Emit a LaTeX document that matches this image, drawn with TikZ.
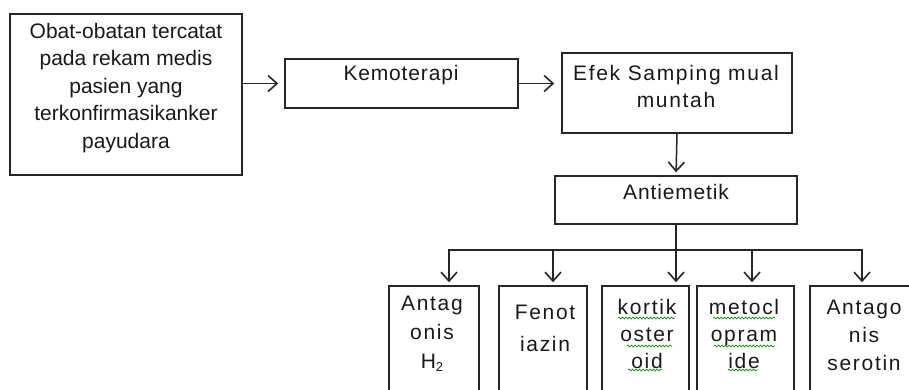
\documentclass[tikz,border=0pt]{standalone}
\usepackage{fontspec}
\setmainfont{Liberation Sans}
\newfontfamily\wideface[LetterSpace=4]{Liberation Sans}
\newfontfamily\widerface[LetterSpace=8]{Liberation Sans}
\usetikzlibrary{arrows.meta,decorations.pathmorphing}
\begin{document}
\begin{tikzpicture}[x=1pt,y=-1pt,
  box/.style={draw=black!85,line width=1.5pt,rectangle,inner sep=0pt},
  txt/.style={align=center,inner sep=0pt,font=\wideface\fontsize{21}{27.5}\selectfont,text=black!90},
  ln/.style={draw=black!85,line width=1.5pt},
  arr/.style={ln,-{Straight Barb[length=9pt,width=16pt,line width=1.6pt]}},
  spell/.style={draw=green!55!black,line width=0.7pt,decorate,decoration={snake,segment length=3.5pt,amplitude=0.9pt}}]
\useasboundingbox (0,0) rectangle (909,389);
\clip (0,0) rectangle (909,389);
% boxes
\node[box,minimum width=232pt,minimum height=161pt] (b1) at (126,94.5) {};
\node[box,minimum width=233pt,minimum height=49pt] (kemo) at (401.5,83.5) {};
\node[box,minimum width=230pt,minimum height=80pt] (efek) at (677,93) {};
\node[box,minimum width=242pt,minimum height=48pt] (anti) at (676,200) {};
\node[box,minimum width=90pt,minimum height=120pt] (c1) at (434,346) {};
\node[box,minimum width=88pt,minimum height=120pt] (c2) at (543,346) {};
\node[box,minimum width=87pt,minimum height=120pt] (c3) at (645.5,346) {};
\node[box,minimum width=97pt,minimum height=120pt] (c4) at (745.5,346) {};
\node[box,minimum width=110pt,minimum height=120pt] (c5) at (865,346) {};
% texts
\node[txt,font=\fontsize{21}{27.5}\selectfont] (t1) at (126,88) {Obat-obatan tercatat\\pada rekam medis\\pasien yang\\terkonfirmasikanker\\payudara};
\node[txt] (t2) at (401,75) {Kemoterapi};
\node[txt,font=\widerface\fontsize{21}{27}\selectfont] (t3) at (676,86.5) {Efek Samping mual\\muntah};
\node[txt] (t4) at (676,192) {Antiemetik};
\node[txt,font=\widerface\fontsize{21}{29}\selectfont] (t5) at (432,334) {Antag\\onis\\H{\fontsize{13}{13}\selectfont\raisebox{-3pt}{2}}};
\node[txt,font=\widerface\fontsize{21}{32}\selectfont] (t6) at (545,328) {Fenot\\iazin};
\node[txt,font=\widerface\fontsize{21}{27}\selectfont] (t7) at (647,334) {kortik\\oster\\oid};
\node[txt,font=\widerface\fontsize{21}{27}\selectfont] (t8) at (744,334) {metocl\\opram\\ide};
\node[txt,font=\widerface\fontsize{21}{28}\selectfont] (t9) at (864,335) {Antago\\nis\\serotin};
% spell-check underlines
\draw[spell] (618,318) -- (675,318);
\draw[spell] (627,346) -- (672,346);
\draw[spell] (628,370) -- (662,370);
\draw[spell] (713,318) -- (775,318);
\draw[spell] (714,346) -- (775,346);
\draw[spell] (728,370) -- (758,370);
% connectors
\draw[arr,shorten >=6pt] (kemo.west -| b1.east) -- (kemo.west);
\draw[arr,shorten >=7pt] (kemo.east) -- (kemo.east -| efek.west);
\draw[arr,shorten >=3pt] (efek.south) -- (anti.north);
\coordinate (bus) at (676,250);
\draw[ln] (anti.south) -- (bus);
\draw[arr,shorten >=3pt] (bus) -| ([xshift=15pt]c1.north);
\draw[arr,shorten >=3pt] (bus) -| ([xshift=10pt]c2.north);
\draw[arr,shorten >=3pt] (bus) -- ([xshift=30.5pt]c3.north);
\draw[arr,shorten >=3pt] (bus) -| ([xshift=6.5pt]c4.north);
\draw[arr,shorten >=3pt] (bus) -| ([xshift=-3pt]c5.north);
\end{tikzpicture}
\end{document}
